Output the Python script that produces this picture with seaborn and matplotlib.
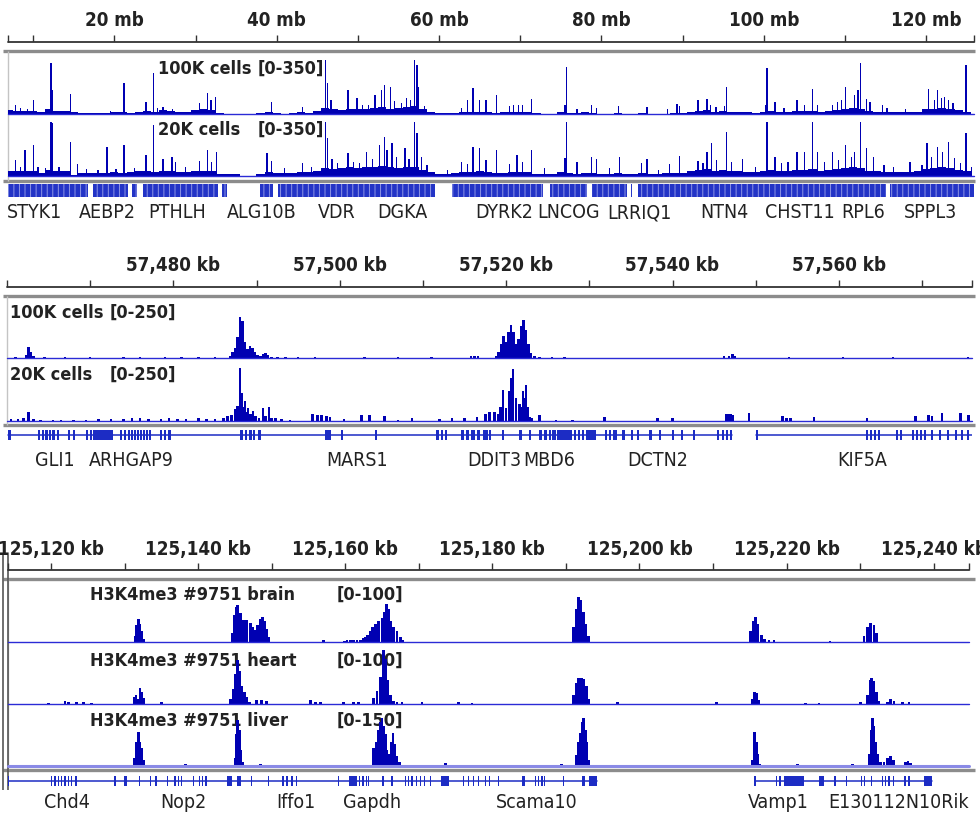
import matplotlib
matplotlib.use("Agg")
import matplotlib.pyplot as plt
import matplotlib.transforms as mtransforms
import seaborn as sns

sns.set_theme(style="white")
plt.rcParams['font.family'] = ['DejaVu Sans']
plt.rcParams['font.stretch'] = 'condensed'
plt.rcParams['hatch.linewidth'] = 0.7

W, H = 980, 816
BLUE = '#0000b2'
GENE = '#1c2cc4'
INK = '#222222'

# ---------------- panel 1 : whole chromosome (mb) ----------------
p1_range = (6.9, 125.9)
p1_ticks = [10, 20, 30, 40, 50, 60, 70, 80, 90, 100, 110, 120]
p1_labels = [20, 40, 60, 80, 100, 120]

bg_mb = list(range(7, 126))
bg_100k = [25, 20, 18, 22, 15, 30, 20, 18, 10, 8, 6, 8, 8, 10, 12, 8, 15, 20, 15, 25,
           22, 12, 10, 25, 30, 25, 8, 2, 2, 2, 3, 5, 12, 5, 3, 4, 10, 8, 20, 40,
           30, 25, 35, 30, 35, 40, 45, 35, 40, 45, 50, 30, 10, 5, 4, 8, 15, 12, 15, 10,
           8, 12, 15, 12, 15, 5, 3, 3, 15, 8, 4, 10, 8, 3, 3, 6, 3, 2, 5, 3,
           2, 3, 8, 5, 10, 20, 25, 15, 20, 12, 10, 10, 8, 15, 20, 12, 15, 18, 20, 22,
           15, 20, 25, 35, 40, 35, 20, 15, 12, 10, 10, 12, 15, 30, 35, 40, 35, 25, 10]
bg_20k = [35, 30, 30, 35, 20, 40, 30, 30, 8, 20, 22, 18, 22, 25, 22, 25, 30, 30, 25, 35,
          30, 25, 25, 30, 35, 30, 15, 12, 10, 0, 2, 15, 25, 20, 18, 20, 25, 25, 30, 50,
          45, 50, 55, 50, 55, 60, 65, 55, 50, 55, 60, 40, 25, 15, 12, 20, 25, 25, 30, 25,
          20, 22, 25, 25, 25, 15, 12, 15, 25, 18, 15, 22, 20, 15, 15, 20, 15, 15, 20, 15,
          15, 18, 22, 22, 30, 40, 45, 35, 40, 30, 30, 28, 25, 35, 40, 30, 35, 40, 40, 45,
          35, 40, 45, 50, 55, 50, 35, 30, 28, 25, 25, 28, 30, 45, 50, 55, 50, 40, 30]

spk_100k_mb = [7.8, 8.4, 9.3, 10.0, 11.5, 12.2, 12.4, 14.6, 19.5, 21.2, 23.9, 24.8, 25.3, 26.0,
               27.2, 30.5, 31.5, 31.9, 32.5, 39.4, 43.2, 46.0, 46.3, 46.7, 48.8, 49.9, 50.6,
               51.3, 52.1, 52.9, 53.3, 54.0, 54.5, 55.4, 56.0, 56.5, 57.0, 57.3, 57.5, 58.2,
               62.8, 63.5, 64.2, 65.0, 65.8, 67.1, 68.7, 69.2, 69.8, 70.3, 71.4, 75.5, 75.7,
               77.0, 78.8, 79.4, 82.1, 85.6, 88.1, 89.3, 89.6, 91.9, 93.0, 93.4, 94.1, 95.2,
               95.4, 100.2, 100.4, 101.4, 102.5, 104.1, 105.0, 106.0, 106.6, 108.5, 109.1,
               109.6, 110.1, 111.2, 111.6, 111.9, 112.7, 113.1, 114.6, 115.2, 117.5, 120.3,
               121.0, 121.4, 121.9, 122.3, 122.8, 123.3, 124.9]
spk_100k_val = [57, 40, 35, 90, 30, 325, 150, 127, 20, 200, 76, 260, 40, 45,
                35, 70, 133, 90, 108, 76, 45, 345, 200, 90, 150, 100, 60,
                55, 120, 150, 185, 170, 80, 70, 100, 90, 345, 310, 170, 50,
                38, 90, 165, 90, 90, 120, 50, 55, 60, 55, 95, 57, 300,
                30, 57, 40, 50, 45, 35, 65, 50, 90, 95, 60, 45, 50,
                170, 60, 290, 75, 40, 90, 60, 160, 60, 55, 75,
                90, 170, 120, 150, 325, 95, 75, 55, 40, 30, 160,
                90, 150, 100, 110, 90, 70, 310]

spk_20k_mb = [7.8, 8.4, 9.0, 10.0, 10.6, 11.5, 12.2, 12.4, 13.2, 14.6, 15.5, 16.6, 18.0, 19.1,
              20.2, 21.2, 22.5, 23.9, 24.8, 26.0, 27.1, 27.5, 28.8, 30.5, 31.5, 32.0, 32.6,
              38.8, 39.4, 41.0, 43.2, 44.3, 46.0, 46.3, 46.8, 47.5, 48.8, 49.5, 50.2, 51.1,
              51.8, 52.7, 53.3, 53.6, 54.2, 54.8, 55.8, 56.3, 57.0, 57.3, 57.8, 58.5, 61.0,
              62.8, 63.5, 64.2, 65.0, 65.8, 67.1, 68.7, 69.6, 70.3, 71.4, 73.0, 75.5, 75.7,
              77.0, 78.8, 79.4, 81.0, 82.2, 84.9, 85.6, 87.0, 88.4, 89.6, 91.9, 92.5, 93.0,
              93.6, 94.2, 95.4, 96.0, 97.4, 99.0, 100.4, 101.4, 102.2, 103.0, 104.1, 105.0,
              106.0, 106.6, 107.5, 108.5, 109.2, 110.1, 110.8, 111.2, 111.9, 112.7, 113.5,
              114.8, 116.0, 118.0, 119.5, 120.1, 120.7, 121.4, 122.0, 122.8, 123.5, 124.2,
              124.9, 125.6]
spk_20k_val = [100, 60, 165, 197, 60, 50, 345, 335, 60, 215, 76, 45, 40, 185,
               45, 197, 50, 135, 325, 110, 120, 90, 60, 95, 165, 90, 150,
               145, 95, 50, 80, 55, 345, 240, 110, 80, 145, 90, 85, 150,
               110, 195, 250, 165, 210, 120, 180, 110, 345, 275, 120, 70, 40,
               90, 75, 185, 180, 100, 165, 76, 135, 90, 165, 50, 115, 345,
               90, 120, 110, 50, 120, 80, 110, 40, 76, 130, 95, 80, 150,
               210, 100, 280, 90, 110, 60, 345, 120, 80, 90, 150, 150,
               345, 150, 90, 150, 100, 195, 120, 150, 345, 180, 120,
               70, 60, 90, 70, 210, 120, 185, 150, 215, 115, 80,
               275, 60]

p1_gene_blocks = [(6.9, 16.8), (17.4, 21.7), (22.2, 22.8), (23.5, 32.8), (33.3, 33.9),
                  (37.9, 39.6), (40.1, 59.5), (61.6, 72.8), (73.7, 78.2), (78.8, 83.1),
                  (83.6, 83.8), (84.5, 98.0), (98.0, 115.1), (115.5, 125.9)]
p1_gene_names = ['STYK1', 'AEBP2', 'PTHLH', 'ALG10B', 'VDR', 'DGKA', 'DYRK2', 'LNCOG',
                 'LRRIQ1', 'NTN4', 'CHST11', 'RPL6', 'SPPL3']
p1_gene_pos = [10.2, 19.2, 27.7, 38.2, 47.4, 55.5, 68.0, 75.9, 84.7, 95.2, 104.4, 112.2, 120.6]

# ---------------- panel 2 : 57.46-57.58 mb (kb) ----------------
p2_range = (57460.0, 57576.0)
p2_ticks = [57470, 57480, 57490, 57500, 57510, 57520, 57530, 57540, 57550, 57560, 57570]
p2_labels = [57480, 57500, 57520, 57540, 57560]

p2_100k_kb = [57461.0, 57462.3, 57462.6, 57462.9, 57463.2, 57464.5, 57467.0, 57470.0, 57474.0,
              57476.0, 57479.0, 57481.0, 57483.0, 57485.0, 57486.8, 57487.1, 57487.4, 57487.7,
              57488.0, 57488.3, 57488.6, 57488.9, 57489.2, 57489.5, 57489.8, 57490.1, 57490.5,
              57490.8, 57491.1, 57491.4, 57491.8, 57492.5, 57493.5, 57495.0, 57497.0, 57499.0,
              57503.0, 57507.0, 57511.0, 57515.8, 57516.2, 57516.6, 57518.8, 57519.1, 57519.4,
              57519.7, 57520.0, 57520.3, 57520.6, 57520.9, 57521.2, 57521.5, 57521.8, 57522.1,
              57522.4, 57522.7, 57523.0, 57523.4, 57524.0, 57525.5, 57527.0, 57546.2, 57546.8,
              57547.2, 57547.5, 57554.0, 57560.5, 57566.5, 57572.0, 57575.5]
p2_100k_val = [4, 15, 46, 25, 8, 3, 3, 4, 4,
               3, 3, 4, 3, 3, 10, 25, 45, 90,
               177, 160, 70, 40, 52, 45, 25, 12, 10,
               18, 22, 14, 6, 4, 3, 3, 3, 2,
               4, 3, 3, 8, 10, 7, 10, 25, 60,
               95, 70, 110, 142, 110, 60, 80, 140, 164,
               120, 60, 20, 8, 4, 3, 3, 10, 8,
               16, 10, 3, 3, 3, 2, 6]

p2_20k_kb = [57460.5, 57461.3, 57462.0, 57462.6, 57463.2, 57464.0, 57465.5, 57466.5, 57468.0,
             57469.5, 57471.0, 57472.5, 57474.0, 57475.0, 57476.0, 57477.0, 57478.5, 57479.5,
             57480.5, 57481.5, 57483.0, 57484.0, 57485.0, 57486.0, 57486.5, 57487.0, 57487.4,
             57487.7, 57488.0, 57488.2, 57488.4, 57488.6, 57488.9, 57489.0, 57489.3, 57489.6,
             57489.9, 57490.3, 57490.8, 57491.1, 57491.5, 57491.8, 57492.3, 57493.0, 57494.0,
             57496.7, 57497.3, 57497.8, 57498.4, 57498.8, 57500.5, 57502.6, 57503.6, 57505.4,
             57507.0, 57508.7, 57512.0, 57513.5, 57515.0, 57516.5, 57517.5, 57518.0, 57518.6,
             57519.0, 57519.3, 57519.6, 57520.0, 57520.4, 57520.6, 57520.8, 57521.2, 57521.6,
             57521.8, 57522.0, 57522.2, 57522.4, 57522.6, 57522.8, 57523.1, 57524.0, 57526.0,
             57528.0, 57531.8, 57538.2, 57540.0, 57546.4, 57546.7, 57547.0, 57547.2, 57549.2,
             57553.2, 57553.7, 57554.2, 57557.0, 57563.4, 57569.2, 57570.8, 57571.2, 57572.4,
             57574.6, 57575.6]
p2_20k_val = [8, 10, 12, 40, 10, 6, 5, 6, 6,
              5, 8, 10, 8, 12, 14, 10, 8, 12,
              8, 9, 12, 10, 8, 15, 20, 25, 50,
              65, 230, 120, 60, 86, 40, 56, 30, 43,
              20, 15, 56, 20, 60, 15, 12, 8, 6,
              30, 28, 25, 20, 18, 8, 28, 26, 22,
              6, 12, 10, 14, 12, 18, 30, 40, 40,
              30, 60, 134, 56, 130, 185, 224, 100, 75,
              60, 130, 100, 155, 60, 18, 15, 26, 6,
              6, 17, 15, 12, 30, 30, 30, 25, 35,
              20, 15, 15, 16, 12, 22, 26, 22, 35,
              35, 26]

p2_exons = [(57460.12, 57460.48), (57463.72, 57463.96), (57464.20, 57464.44), (57464.56, 57464.92),
            (57465.04, 57465.28), (57465.40, 57465.76), (57466.00, 57466.24), (57467.32, 57467.56),
            (57467.92, 57468.16), (57469.48, 57469.72), (57469.96, 57470.20), (57470.32, 57472.73),
            (57473.57, 57473.81), (57474.05, 57474.29), (57474.53, 57474.77), (57474.89, 57475.13),
            (57475.25, 57475.49), (57475.61, 57475.85), (57475.97, 57476.21), (57476.33, 57476.57),
            (57476.69, 57476.93), (57477.05, 57477.29), (57478.37, 57478.61), (57478.85, 57479.09),
            (57479.33, 57479.69), (57487.97, 57488.33), (57488.57, 57488.81), (57489.05, 57489.41),
            (57489.53, 57489.77), (57490.13, 57490.49), (57498.18, 57498.90), (57500.10, 57500.34),
            (57504.18, 57504.42), (57511.62, 57511.98), (57512.22, 57512.46), (57512.70, 57512.94),
            (57514.62, 57514.98), (57515.22, 57515.58), (57515.82, 57516.30), (57516.54, 57516.90),
            (57517.26, 57517.86), (57517.98, 57518.22), (57519.54, 57519.78), (57521.58, 57521.94),
            (57522.78, 57523.03), (57523.99, 57524.35), (57524.59, 57524.95), (57525.19, 57525.43),
            (57525.55, 57526.03), (57526.15, 57527.95), (57528.19, 57528.43), (57528.67, 57528.91),
            (57529.15, 57529.39), (57529.63, 57530.83), (57531.91, 57532.15), (57532.39, 57532.63),
            (57532.87, 57533.35), (57533.95, 57534.31), (57535.03, 57535.27), (57535.75, 57535.99),
            (57537.19, 57537.55), (57538.39, 57538.63), (57539.95, 57540.19), (57541.03, 57541.27),
            (57542.47, 57542.71), (57545.35, 57545.59), (57545.95, 57546.19), (57546.43, 57546.67),
            (57546.91, 57547.15), (57550.04, 57550.28), (57563.24, 57563.48), (57563.72, 57563.96),
            (57564.20, 57564.44), (57564.68, 57564.92), (57566.84, 57567.08), (57567.32, 57567.56),
            (57568.76, 57569.00), (57569.24, 57569.48), (57569.72, 57569.96), (57570.20, 57570.44),
            (57571.04, 57571.28), (57572.00, 57572.24), (57572.96, 57573.20), (57573.92, 57574.16),
            (57574.64, 57574.88), (57575.36, 57575.60)]
p2_introns = [(57460.1, 57547.2), (57550.0, 57576.0)]
p2_gene_names = ['GLI1', 'ARHGAP9', 'MARS1', 'DDIT3', 'MBD6', 'DCTN2', 'KIF5A']
p2_gene_pos = [57465.8, 57475.0, 57502.1, 57518.6, 57525.2, 57538.2, 57562.8]

# ---------------- panel 3 : Gapdh locus (kb) ----------------
p3_range = (125114.15, 125244.8)
p3_ticks = [125120, 125130, 125140, 125150, 125160, 125170, 125180, 125190, 125200,
            125210, 125220, 125230, 125240]
p3_labels = [125120, 125140, 125160, 125180, 125200, 125220, 125240]

brain_kb = [125131.43, 125131.65, 125131.88, 125132.10, 125132.33, 125132.65,
            125144.67, 125144.94, 125145.26, 125145.40, 125145.71, 125146.17, 125146.62,
            125147.07, 125147.44, 125147.75, 125148.07, 125148.43, 125148.70, 125149.02,
            125149.34, 125149.61, 125157.05,
            125159.90, 125160.23, 125160.70, 125161.13, 125161.60, 125162.04, 125162.40,
            125162.72, 125163.06, 125163.40, 125163.75, 125164.08, 125164.53, 125164.99,
            125165.30, 125165.58, 125165.90, 125166.21, 125166.57, 125167.03, 125167.48,
            125167.80,
            125191.07, 125191.43, 125191.75, 125191.97, 125192.34, 125192.66, 125193.02,
            125215.10, 125215.47, 125215.79, 125216.10, 125216.56, 125217.01, 125217.60,
            125218.28, 125225.90,
            125230.52, 125230.98, 125231.43, 125231.89, 125232.25]
brain_val = [10, 28, 38, 30, 18, 5,
             15, 45, 58, 62, 48, 37, 36,
             32, 25, 20, 28, 38, 42, 35,
             22, 8, 3,
             2, 3, 3, 3, 3, 4, 6,
             8, 12, 18, 25, 30, 35, 40,
             50, 64, 55, 35, 25, 18, 8,
             3,
             25, 55, 75, 70, 50, 30, 10,
             18, 35, 42, 30, 12, 5, 3,
             4, 2,
             10, 25, 32, 28, 15]

heart_kb = [125119.64, 125121.90, 125122.36, 125123.49, 125124.40, 125125.53,
            125131.29, 125131.56, 125131.79, 125132.10, 125132.33, 125132.56, 125135.06,
            125144.35, 125144.81, 125145.08, 125145.35, 125145.62, 125145.94, 125146.26,
            125146.62, 125146.98, 125147.98, 125148.66, 125149.34,
            125155.24, 125155.92, 125156.60, 125159.77, 125161.13, 125161.81,
            125163.85, 125164.31, 125164.76, 125165.22, 125165.53, 125165.80, 125166.12,
            125166.57, 125167.03, 125167.71, 125170.43, 125175.42, 125177.23,
            125191.07, 125191.43, 125191.75, 125192.07, 125192.43, 125192.75, 125193.02,
            125196.96, 125210.48,
            125215.33, 125215.65, 125215.92, 125216.24,
            125222.59, 125224.40, 125230.07,
            125230.98, 125231.34, 125231.57, 125231.89, 125232.25, 125232.56,
            125233.70, 125234.15, 125234.60, 125235.74, 125236.65]
heart_val = [2, 5, 4, 3, 3, 2,
             12, 15, 8, 27, 20, 10, 3,
             8, 25, 50, 73, 55, 30, 20,
             12, 3, 6, 7, 5,
             6, 4, 3, 3, 4, 4,
             10, 22, 45, 90, 75, 40, 15,
             5, 4, 3, 3, 3, 2,
             15, 35, 44, 43, 42, 30, 8,
             4, 4,
             8, 20, 18, 6,
             2, 2, 4,
             15, 40, 44, 38, 20, 5,
             4, 9, 5, 3, 3]

liver_kb = [125131.29, 125131.56, 125131.84, 125132.10, 125132.33, 125132.56,
            125138.23, 125139.14,
            125145.04, 125145.26, 125145.40, 125145.58, 125145.80, 125146.08,
            125147.53, 125148.43, 125149.11, 125158.86,
            125163.85, 125164.22, 125164.53, 125164.76, 125164.99, 125165.22, 125165.44,
            125165.67, 125165.81, 125166.03, 125166.26, 125166.48, 125166.71, 125167.03,
            125167.39, 125173.60, 125189.39,
            125191.43, 125191.75, 125191.97, 125192.25, 125192.43, 125192.66, 125192.88,
            125193.11,
            125215.33, 125215.56, 125215.69, 125215.88, 125216.10, 125216.37,
            125218.73, 125221.45, 125227.35, 125228.94,
            125231.20, 125231.52, 125231.70, 125231.89, 125232.11, 125232.43, 125232.79,
            125233.25, 125233.70, 125234.15, 125234.51,
            125236.19, 125236.51, 125236.87]
liver_val = [20, 60, 84, 60, 45, 15,
             4, 3,
             20, 80, 115, 90, 40, 10,
             3, 4, 3, 3,
             45, 60, 90, 110, 120, 100, 80,
             40, 15, 30, 60, 82, 55, 25,
             10, 7, 6,
             28, 60, 82, 110, 120, 90, 60,
             15,
             15, 60, 85, 60, 30, 5,
             3, 5, 3, 4,
             30, 90, 120, 100, 60, 30, 10,
             10, 20, 25, 15,
             10, 12, 8]

p3_exons = [(125114.10, 125114.30), (125120.00, 125120.18), (125120.45, 125120.63),
            (125120.91, 125121.09), (125121.36, 125121.54), (125121.81, 125121.99),
            (125122.27, 125122.45), (125122.72, 125122.90), (125123.31, 125123.49),
            (125128.61, 125128.79), (125129.93, 125130.38), (125131.93, 125132.11),
            (125133.47, 125133.65), (125134.19, 125134.37), (125135.78, 125135.96),
            (125136.78, 125136.96), (125137.23, 125137.41), (125137.69, 125137.87),
            (125139.27, 125139.45), (125140.09, 125140.27), (125140.54, 125140.72),
            (125141.00, 125141.18), (125143.90, 125144.58), (125145.26, 125145.80),
            (125147.21, 125147.39), (125149.48, 125149.66), (125151.43, 125151.61),
            (125151.97, 125152.15), (125152.65, 125152.83), (125153.24, 125153.42),
            (125159.00, 125159.18), (125160.45, 125161.59), (125161.86, 125162.04),
            (125162.31, 125162.49), (125162.76, 125162.94), (125163.08, 125163.26),
            (125165.03, 125165.21), (125166.26, 125166.44), (125168.07, 125168.25),
            (125168.53, 125168.71), (125168.98, 125169.16), (125169.57, 125169.75),
            (125170.11, 125170.29), (125170.66, 125170.84), (125171.47, 125171.65),
            (125173.01, 125174.06), (125176.01, 125176.19), (125176.69, 125176.87),
            (125177.37, 125177.55), (125178.05, 125178.23), (125178.96, 125179.14),
            (125179.55, 125179.73), (125180.77, 125180.95), (125184.04, 125184.49),
            (125185.76, 125185.94), (125186.22, 125186.40), (125186.67, 125186.85),
            (125186.99, 125187.17), (125189.62, 125189.80), (125192.25, 125192.66),
            (125193.11, 125194.24), (125215.60, 125215.78), (125218.55, 125218.73),
            (125219.01, 125219.19), (125219.64, 125222.36), (125224.40, 125225.08),
            (125226.49, 125226.67), (125228.08, 125228.26), (125230.07, 125230.25),
            (125230.52, 125230.70), (125231.48, 125231.66), (125232.93, 125233.11),
            (125233.38, 125233.56), (125233.83, 125234.01), (125234.42, 125234.60),
            (125236.01, 125236.19), (125236.56, 125236.74), (125238.69, 125239.82)]
p3_introns = [(125114.19, 125194.24), (125215.69, 125239.82)]
p3_gene_names = ['Chd4', 'Nop2', 'Iffo1', 'Gapdh', 'Scama10', 'Vamp1', 'E130112N10Rik']
p3_gene_pos = [125122.2, 125138.0, 125153.3, 125163.7, 125186.1, 125218.9, 125235.2]


fig = plt.figure(figsize=(W / 100, H / 100), dpi=100)
bg = fig.add_axes([0, 0, 1, 1])
bg.set_xlim(0, W)
bg.set_ylim(H, 0)
bg.set_axis_off()
bg.set_zorder(0)


def px_axes(x0, top, x1, bottom, xr, yr):
    ax = fig.add_axes([x0 / W, 1 - bottom / H, (x1 - x0) / W, (bottom - top) / H])
    ax.set_axis_off()
    ax.patch.set_alpha(0)
    ax.set_zorder(2)
    ax.set_xlim(xr)
    ax.set_ylim(yr)
    return ax


def ruler(xr, px, line_y, label_y, ticks, labels, unit):
    ax = px_axes(px[0], line_y - 10, px[1], line_y, xr, (0, 1))
    ax.vlines(ticks, 0, 0.75, color='#333333', lw=1)
    ax.vlines(list(xr), 0, 0.75, color='#333333', lw=1, clip_on=False)
    ax.axhline(0, color='#333333', lw=1.3, clip_on=False)
    tr = mtransforms.blended_transform_factory(ax.transData, bg.transData)
    for t in labels:
        txt = f'{t} mb' if unit == 'mb' else f'{t:,} kb'
        ax.text(t, label_y, txt, transform=tr, ha='center', va='center',
                fontsize=13.5, fontweight='bold', color=INK, clip_on=False)


def track(xr, px, base_y, height, ymax, pos, val, width, base_color='#2b2bd6', base_lw=1.0):
    ax = px_axes(px[0], base_y - height, px[1], base_y, xr, (0, ymax))
    ax.bar(pos, val, width=width, color=BLUE, linewidth=0, align='center')
    ax.axhline(0, color=base_color, lw=base_lw, clip_on=False)
    return ax


def genes(xr, px, center_y, exons, introns, names, name_pos, name_y, half=6, hatch=None):
    ax = px_axes(px[0], center_y - half - 1, px[1], center_y + half + 1, xr, (-1, 1))
    for a, b in introns:
        sns.lineplot(x=[a, b], y=[0, 0], ax=ax, color=GENE, lw=1.1)
    frac = half / (half + 1)
    if hatch:
        ax.broken_barh([(a, b - a) for a, b in exons], (-frac, 2 * frac),
                       facecolor='#2334c6', edgecolor='#8e96e6', hatch=hatch, lw=0)
    else:
        ax.broken_barh([(a, b - a) for a, b in exons], (-frac, 2 * frac), color=GENE, lw=0)
    tr = mtransforms.blended_transform_factory(ax.transData, bg.transData)
    for n, p in zip(names, name_pos):
        ax.text(p, name_y, n, transform=tr, ha='center', va='center',
                fontsize=14, color=INK, clip_on=False)


def frame_lines(y_top, y_bot, x_left):
    bg.hlines([y_top, y_bot], 3, 975, color='#8c8c8c', lw=2.4)
    bg.vlines(x_left, y_top, y_bot, color='#c4c4c4', lw=1)


def track_label(x, y, name, rng_x, rng):
    bg.text(x, y, name, ha='left', va='center', fontsize=13, fontweight='bold', color=INK)
    bg.text(rng_x, y, rng, ha='left', va='center', fontsize=13, fontweight='bold', color=INK)


# panel 1
px1 = (8, 974)
frame_lines(51, 181, 7.5)
ruler(p1_range, px1, 42, 20, p1_ticks, p1_labels, 'mb')
track_label(158, 69, '100K cells', 258, '[0-350]')
track_label(158, 130, '20K cells', 258, '[0-350]')
for base, bgv, sp, sv in [(114, bg_100k, spk_100k_mb, spk_100k_val),
                          (176, bg_20k, spk_20k_mb, spk_20k_val)]:
    ax = track(p1_range, px1, base, 55, 350, bg_mb, bgv, 1.0)
    ax.bar(sp, sv, width=0.16, color=BLUE, linewidth=0)
genes(p1_range, px1, 190.5, p1_gene_blocks, [], p1_gene_names, p1_gene_pos, 213,
      half=6.5, hatch='|||')

# panel 2
px2 = (7, 972)
frame_lines(296, 424.5, 7)
ruler(p2_range, px2, 287, 265, p2_ticks, p2_labels, 'kb')
track_label(10, 313, '100K cells', 110, '[0-250]')
track_label(10, 375, '20K cells', 110, '[0-250]')
track(p2_range, px2, 358, 58, 250, p2_100k_kb, p2_100k_val, 0.3)
track(p2_range, px2, 421, 58, 250, p2_20k_kb, p2_20k_val, 0.3)
genes(p2_range, px2, 435, p2_exons, p2_introns, p2_gene_names, p2_gene_pos, 460, half=5)

# panel 3
px3 = (8, 969)
frame_lines(579, 769.5, 8)
bg.vlines([3, 8], 555, 790, color='#555555', lw=1.2)
ruler(p3_range, px3, 570, 549, p3_ticks, p3_labels, 'kb')
track_label(90, 595, 'H3K4me3 #9751 brain', 337, '[0-100]')
track_label(90, 661, 'H3K4me3 #9751 heart', 337, '[0-100]')
track_label(90, 721, 'H3K4me3 #9751 liver', 337, '[0-150]')
track(p3_range, px3, 642, 60, 100, brain_kb, brain_val, 0.38)
track(p3_range, px3, 704, 60, 100, heart_kb, heart_val, 0.38)
track(p3_range, px3, 766, 60, 150, liver_kb, liver_val, 0.38,
      base_color='#8a8ae6', base_lw=2.2)
genes(p3_range, px3, 781, p3_exons, p3_introns, p3_gene_names, p3_gene_pos, 802, half=5)

fig.savefig('out.png', dpi=100)
